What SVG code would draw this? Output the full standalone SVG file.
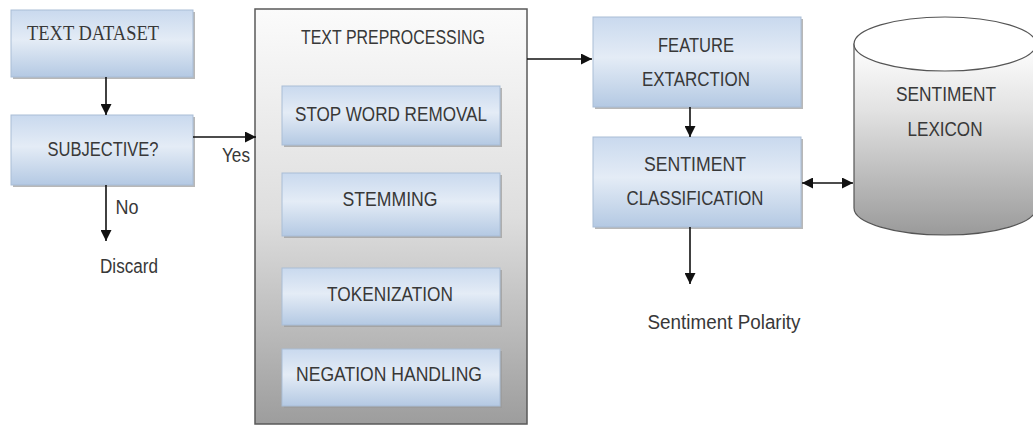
<svg xmlns="http://www.w3.org/2000/svg" width="1033" height="426" viewBox="0 0 1033 426">
<defs>
<linearGradient id="blue" x1="0" y1="0" x2="0" y2="1">
<stop offset="0" stop-color="#c9d9ee"/>
<stop offset="0.45" stop-color="#e4ecf6"/>
<stop offset="1" stop-color="#b4c9e3"/>
</linearGradient>
<linearGradient id="grayBox" x1="0" y1="0" x2="0" y2="1">
<stop offset="0" stop-color="#fbfbfb"/>
<stop offset="0.5" stop-color="#dedede"/>
<stop offset="1" stop-color="#9d9d9d"/>
</linearGradient>
<linearGradient id="cyl" x1="0" y1="0" x2="0" y2="1">
<stop offset="0" stop-color="#ffffff"/>
<stop offset="0.35" stop-color="#e2e2e2"/>
<stop offset="1" stop-color="#9a9a9a"/>
</linearGradient>
<marker id="arr" viewBox="0 0 10 10" refX="10" refY="5" markerWidth="11" markerHeight="11" markerUnits="userSpaceOnUse" orient="auto-start-reverse">
<path d="M0,0 L10,5 L0,10 z" fill="#111"/>
</marker>
</defs>
<style>
.box{fill:url(#blue);stroke:#a9bdd6;stroke-width:1}
.shadow{fill:#9a9a9a;opacity:0.7}
.t{font-family:"Liberation Sans",Arial,sans-serif;font-size:20px;fill:#383838;text-anchor:middle}
.serif{font-family:"Liberation Serif","Times New Roman",serif;font-size:21px;fill:#383838;text-anchor:middle}
.c{stroke:#111;stroke-width:1.6;fill:none;marker-end:url(#arr)}
</style>
<g id="text-dataset">
<rect class="shadow" x="13" y="12" width="182" height="67"/>
<rect class="box" x="11" y="10" width="182" height="67"/>
<text class="serif" x="93" y="40" textLength="132" lengthAdjust="spacingAndGlyphs">TEXT DATASET</text>
</g>
<g id="subjective">
<rect class="shadow" x="13" y="117" width="182" height="70"/>
<rect class="box" x="11" y="115" width="182" height="70"/>
<text class="t" x="103" y="156" textLength="111" lengthAdjust="spacingAndGlyphs">SUBJECTIVE?</text>
</g>
<g id="text-preprocessing">
<rect x="255" y="9" width="272" height="415" fill="url(#grayBox)" stroke="#5a5a5a" stroke-width="1.5"/>
<text class="t" x="393" y="44" textLength="184" lengthAdjust="spacingAndGlyphs">TEXT PREPROCESSING</text>
<g id="stop-word-removal">
<rect class="shadow" x="284" y="88" width="218" height="59"/>
<rect class="box" x="282" y="86" width="218" height="59"/>
<text class="t" x="391" y="121" textLength="192" lengthAdjust="spacingAndGlyphs">STOP WORD REMOVAL</text>
</g>
<g id="stemming">
<rect class="shadow" x="284" y="175" width="218" height="63"/>
<rect class="box" x="282" y="173" width="218" height="63"/>
<text class="t" x="390" y="206" textLength="95" lengthAdjust="spacingAndGlyphs">STEMMING</text>
</g>
<g id="tokenization">
<rect class="shadow" x="284" y="270" width="218" height="57"/>
<rect class="box" x="282" y="268" width="218" height="57"/>
<text class="t" x="390" y="301" textLength="126" lengthAdjust="spacingAndGlyphs">TOKENIZATION</text>
</g>
<g id="negation-handling">
<rect class="shadow" x="284" y="351" width="218" height="57"/>
<rect class="box" x="282" y="349" width="218" height="57"/>
<text class="t" x="389" y="381" textLength="186" lengthAdjust="spacingAndGlyphs">NEGATION HANDLING</text>
</g>
</g>
<g id="feature-extraction">
<rect class="shadow" x="595" y="19" width="208" height="90"/>
<rect class="box" x="593" y="17" width="208" height="90"/>
<text class="t" x="696" y="52" textLength="76" lengthAdjust="spacingAndGlyphs">FEATURE</text>
<text class="t" x="696" y="86" textLength="108" lengthAdjust="spacingAndGlyphs">EXTARCTION</text>
</g>
<g id="sentiment-classification">
<rect class="shadow" x="595" y="139" width="208" height="90"/>
<rect class="box" x="593" y="137" width="208" height="90"/>
<text class="t" x="695" y="171" textLength="102" lengthAdjust="spacingAndGlyphs">SENTIMENT</text>
<text class="t" x="695" y="205" textLength="137" lengthAdjust="spacingAndGlyphs">CLASSIFICATION</text>
</g>
<g id="sentiment-lexicon">
<path d="M854,44 L854,208 A91,27 0 0 0 1036,208 L1036,44 Z" fill="url(#cyl)" stroke="#555" stroke-width="1.2"/>
<ellipse cx="945" cy="44" rx="91" ry="27" fill="#fff" stroke="#555" stroke-width="1.2"/>
<text class="t" x="946" y="101" textLength="100" lengthAdjust="spacingAndGlyphs">SENTIMENT</text>
<text class="t" x="945" y="136" textLength="75" lengthAdjust="spacingAndGlyphs">LEXICON</text>
</g>
<g id="labels">
<text class="t" x="236" y="162" textLength="28" lengthAdjust="spacingAndGlyphs">Yes</text>
<text class="t" x="127" y="214" textLength="23" lengthAdjust="spacingAndGlyphs">No</text>
<text class="t" x="129" y="273" textLength="58" lengthAdjust="spacingAndGlyphs">Discard</text>
<text class="t" x="724" y="329" textLength="153" lengthAdjust="spacingAndGlyphs">Sentiment Polarity</text>
</g>
<g id="connectors">
<line class="c" x1="106" y1="77" x2="106" y2="115"/>
<line class="c" x1="193" y1="137" x2="256" y2="137"/>
<line class="c" x1="106" y1="185" x2="106" y2="241"/>
<line class="c" x1="527" y1="59" x2="592" y2="59"/>
<line class="c" x1="690" y1="107" x2="690" y2="137"/>
<line class="c" x1="690" y1="227" x2="690" y2="284"/>
<line class="c" x1="802" y1="183" x2="853" y2="183" marker-start="url(#arr)"/>
</g>
</svg>
